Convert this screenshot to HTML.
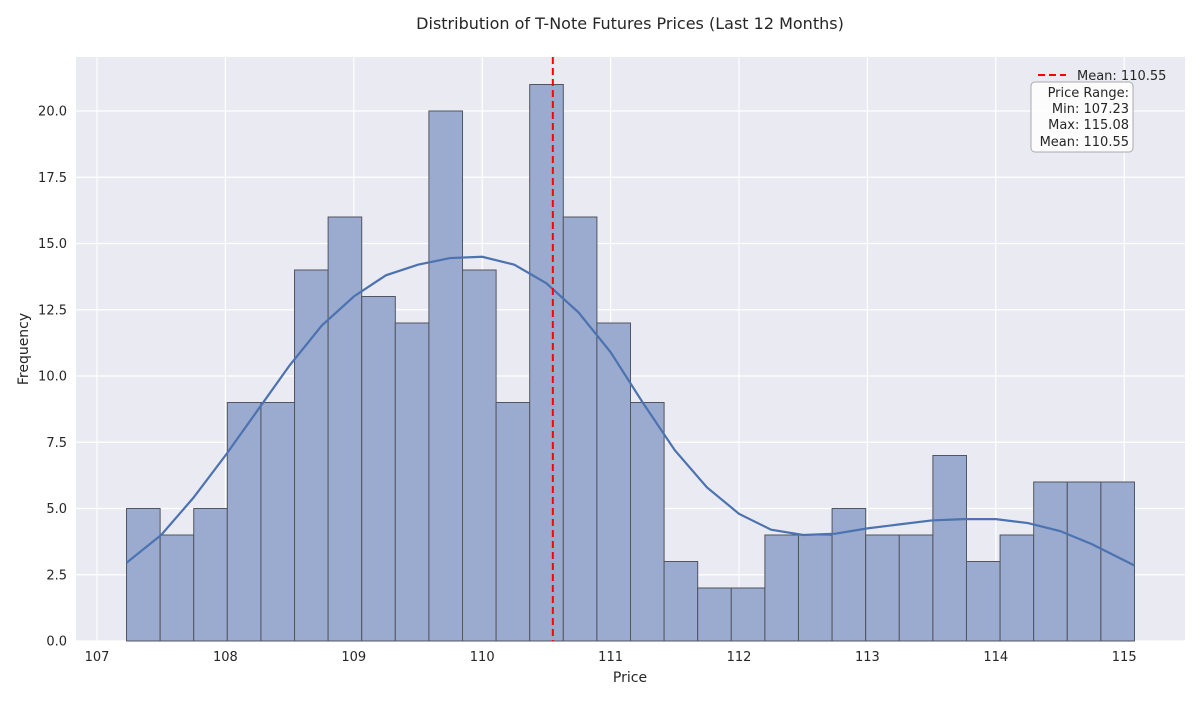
<!DOCTYPE html>
<html><head><meta charset="utf-8"><style>
body{margin:0;background:#fff;font-family:"Liberation Sans","DejaVu Sans",sans-serif}
svg text{font-family:"DejaVu Sans","Liberation Sans",sans-serif}
</style></head><body>
<svg id="chart" width="1200" height="700" viewBox="0 0 1200 700">
<rect x="0" y="0" width="1200" height="700" fill="#fff"/>
<rect x="76" y="57" width="1109" height="584" fill="#eaeaf2"/>
<g id="grid"></g>
<g id="bars"></g>
<g id="kde"></g>
<g id="axes"></g>
<text x="630" y="29" text-anchor="middle" font-size="16" fill="#262626">Distribution of T-Note Futures Prices (Last 12 Months)</text>
<text x="630" y="682" text-anchor="middle" font-size="14" fill="#262626">Price</text>
<text x="28" y="349" text-anchor="middle" font-size="14" fill="#262626" transform="rotate(-90 28 349)">Frequency</text>
<g>
<line x1="1038" y1="75" x2="1066" y2="75" stroke="#ff0000" stroke-width="2" stroke-dasharray="7,4"/>
<text x="1077" y="80" font-size="13" fill="#262626">Mean: 110.55</text>
</g>
<g>
<rect x="1031" y="82" width="102" height="70" rx="4" fill="#fff" fill-opacity="0.85" stroke="#aaa"/>
<text font-size="13" fill="#262626" text-anchor="end">
<tspan x="1129" y="97">Price Range:</tspan><tspan x="1129" y="113">Min: 107.23</tspan><tspan x="1129" y="129">Max: 115.08</tspan><tspan x="1129" y="146">Mean: 110.55</tspan></text>
</g>
</svg>
<script>
const binStart = 107.23;
const binEnd = 115.08;
const counts = [5,4,5,9,9,14,16,13,12,20,14,9,21,16,12,9,3,2,2,4,4,5,4,4,7,3,4,6,6,6];
const kdeX = [107.23,107.5,107.75,108,108.25,108.5,108.75,109,109.25,109.5,109.75,110,110.25,110.5,110.75,111,111.25,111.5,111.75,112,112.25,112.5,112.75,113,113.25,113.5,113.75,114,114.25,114.5,114.75,115.08];
const kdeY = [2.95,4.0,5.4,7.0,8.7,10.4,11.9,13.0,13.8,14.2,14.45,14.5,14.2,13.5,12.4,10.9,9.0,7.2,5.8,4.8,4.2,4.0,4.05,4.25,4.4,4.55,4.6,4.6,4.45,4.15,4.65-1,2.85];
const meanValue = 110.55;
const xTicks = [107,108,109,110,111,112,113,114,115];
const yTicks = [0,2.5,5,7.5,10,12.5,15,17.5,20];
const NS="http://www.w3.org/2000/svg";
const X=v=>97+(v-107)*128.4;
const Y=v=>641-v*26.5;
function mk(t,a,p){const e=document.createElementNS(NS,t);for(const k in a)e.setAttribute(k,a[k]);p.appendChild(e);return e;}
const grid=document.getElementById('grid'),axes=document.getElementById('axes');
xTicks.forEach(t=>{
 const l=mk('line',{x1:X(t),x2:X(t),y1:57,y2:641,stroke:'#fff','stroke-width':1.2},grid);
 
 
 const tx=mk('text',{x:X(t),y:661,'text-anchor':'middle','font-size':13,fill:'#262626'},axes);
 tx.textContent=t;
 
 
});
yTicks.forEach(t=>{
 const l=mk('line',{x1:76,x2:1185,y1:Y(t),y2:Y(t),stroke:'#fff','stroke-width':1.2},grid);
 
 
 const tx=mk('text',{x:67,y:Y(t)+4.5,'text-anchor':'end','font-size':13,fill:'#262626'},axes);
 tx.textContent=t.toFixed(1);
 
 
});
const bars=document.getElementById('bars');
const bw=(binEnd-binStart)/counts.length;
counts.forEach((c,i)=>{
 const x0=X(binStart+i*bw),x1=X(binStart+(i+1)*bw);
 const r=mk('rect',{x:x0,y:Y(c),width:x1-x0,height:Y(0)-Y(c),fill:'#9aabcf',stroke:'#505560','stroke-width':1},bars);
 
 
});
const kde=document.getElementById('kde');
kdeY[30]=3.65;
const p=mk('path',{d:kdeX.map((x,i)=>(i?'L':'M')+X(x)+' '+Y(kdeY[i])).join(' '),fill:'none',stroke:'#4c72b0','stroke-width':2.2},kde);


const m=mk('line',{x1:X(meanValue),x2:X(meanValue),y1:57,y2:641,stroke:'#ff0000','stroke-width':2,'stroke-dasharray':'7,4'},kde);


</script>
</body></html>
